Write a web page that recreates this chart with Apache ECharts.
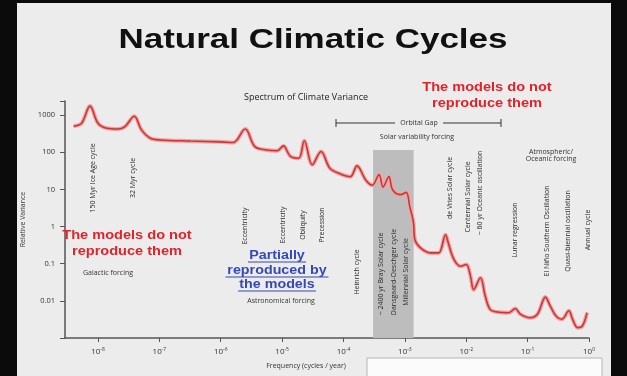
<!DOCTYPE html>
<html>
<head>
<meta charset="utf-8">
<script src="https://cdn.jsdelivr.net/npm/echarts@6/dist/echarts.min.js"></script>
<style>
  body { margin: 0; background: #0b0b0b; }
  #slide { position: absolute; left: 17px; top: 3px; width: 594px; height: 373px; background: #ececec; }
  #chart { position: absolute; left: 0; top: 0; width: 627px; height: 376px; }
</style>
</head>
<body>
<div id="slide"></div>
<div id="chart"></div>
<script>
// spectrum: frequency (cycles / year) and relative variance
var frequency = [4.0e-9, 5.4e-9, 7.4e-9, 1.0e-8, 1.4e-8, 2.1e-8, 2.75e-8, 3.9e-8, 5.1e-8, 7.1e-8,
  1.02e-7, 3.2e-7, 1.0e-6, 1.6e-6, 2.5e-6, 3.6e-6, 5.6e-6, 8.3e-6, 1.05e-5, 1.35e-5,
  1.86e-5, 2.3e-5, 3.1e-5, 4.3e-5, 6.0e-5, 8.9e-5, 1.29e-4, 1.66e-4, 2.3e-4, 2.95e-4,
  3.8e-4, 4.4e-4, 5.5e-4, 6.3e-4, 8.5e-4, 1.05e-3, 1.2e-3, 1.38e-3, 1.45e-3, 1.78e-3,
  2.6e-3, 3.55e-3, 4.6e-3, 5.1e-3, 6.3e-3, 8.1e-3, 1.0e-2, 1.17e-2, 1.32e-2, 1.7e-2,
  2.04e-2, 2.45e-2, 3.2e-2, 4.9e-2, 6.3e-2, 7.6e-2, 0.11, 0.145, 0.195, 0.234,
  0.29, 0.36, 0.47, 0.54, 0.65, 0.78, 0.93];
var variance = [500, 600, 1740, 600, 440, 420, 490, 930, 400, 237,
  214, 200, 190, 182, 420, 141, 115, 110, 148, 79,
  69, 204, 46, 105, 37, 26, 22, 43, 18, 13,
  25, 11.5, 22, 9.8, 7.2, 8.3, 3.5, 1.26, 0.45, 0.27,
  0.195, 0.195, 0.6, 0.36, 0.13, 0.085, 0.095, 0.047, 0.02, 0.042,
  0.0135, 0.0059, 0.005, 0.0048, 0.0062, 0.0044, 0.0035, 0.0044, 0.0126, 0.0072,
  0.0039, 0.0032, 0.0054, 0.0032, 0.0019, 0.0021, 0.0048];

// solar variability band (grey)
var bandFrom = 3.03e-4;
var bandTo = 1.39e-3;
var bandTop = 115;

var xMin = 2.9e-9, xMax = 1;
var yMin = 0.001, yMax = 2390;

var cycleLabels = [
  ['150 Myr Ice Age cycle', 93, 178],
  ['32 Myr cycle', 133, 178],
  ['Eccentricity', 245, 226],
  ['Eccentricity', 283, 225],
  ['Obliquity', 303, 225],
  ['Precession', 322, 225],
  ['Heinrich cycle', 357, 272],
  ['~ 2400 yr Bray Solar cycle', 381, 274],
  ['Dansgaard-Oeschger cycle', 394, 272],
  ['Millennial Solar cycle', 406, 272],
  ['de Vries Solar cycle', 450, 188],
  ['Centennial Solar cycle', 468, 197],
  ['~ 60 yr Oceanic oscillation', 480, 193],
  ['Lunar regression', 515, 230],
  ['El Niño Southern Oscillation', 547, 231],
  ['Quasi-biennial oscillation', 568, 231],
  ['Annual cycle', 588, 230]
];

var points = frequency.map(function (f, i) { return [f, variance[i]]; });

function isPow10(v) {
  var e = Math.log10(v);
  return Math.abs(e - Math.round(e)) < 1e-6;
}

function txt(text, x, y, font, color, opts) {
  var el = {
    type: 'text', x: x, y: y, z: 10,
    style: { text: text, font: font, fill: color, align: 'center', verticalAlign: 'middle' }
  };
  if (opts) for (var k in opts) el[k] = opts[k];
  return el;
}

var graphics = [];
graphics.push(txt('Natural Climatic Cycles', 313, 40, 'bold 28px "Liberation Sans"', '#111', { scaleX: 1.25 }));
graphics.push(txt('Spectrum of Climate Variance', 306, 97, '9px "Open Sans"', '#222'));
graphics.push(txt('The models do not\nreproduce them', 487, 95, 'bold 13px "Liberation Sans"', '#e0232b', { scaleX: 1.12, style: null }));
graphics.push(txt('The models do not\nreproduce them', 127, 243, 'bold 13px "Liberation Sans"', '#e0232b', { scaleX: 1.12 }));
graphics.push(txt('Galactic forcing', 108, 273, '7px "Open Sans"', '#333'));
graphics.push(txt('Astronomical forcing', 281, 301, '7px "Open Sans"', '#333'));
graphics.push(txt('Solar variability forcing', 417, 137, '7px "Open Sans"', '#333'));
graphics.push(txt('Atmospheric/\nOceanic forcing', 551, 155, '7px "Open Sans"', '#333'));
graphics.push(txt('Frequency (cycles / year)', 306, 366, '7px "Open Sans"', '#333'));

// fix the style for the red top text (helper override above)
graphics[2].style = { text: 'The models do not\nreproduce them', font: 'bold 13px "Liberation Sans"', fill: '#e0232b', align: 'center', verticalAlign: 'middle', lineHeight: 16 };
graphics[3].style.lineHeight = 16;

// partially reproduced (blue, underlined)
var blueLines = [['Partially', 277, 255, 58], ['reproduced by', 277, 270, 103], ['the models', 277, 284, 78]];
blueLines.forEach(function (b) {
  graphics.push(txt(b[0], b[1], b[2], 'bold 13px "Liberation Sans"', '#3548b8', { scaleX: 1.1 }));
  graphics.push({ type: 'line', z: 10, shape: { x1: b[1] - b[3] / 2, y1: b[2] + 7, x2: b[1] + b[3] / 2, y2: b[2] + 7 },
    style: { stroke: '#3548b8', lineWidth: 1 } });
});

// orbital gap bracket
graphics.push({ type: 'line', z: 10, shape: { x1: 336, y1: 123, x2: 395, y2: 123 }, style: { stroke: '#333', lineWidth: 1 } });
graphics.push({ type: 'line', z: 10, shape: { x1: 443, y1: 123, x2: 501, y2: 123 }, style: { stroke: '#333', lineWidth: 1 } });
graphics.push({ type: 'line', z: 10, shape: { x1: 336, y1: 119, x2: 336, y2: 127 }, style: { stroke: '#333', lineWidth: 1 } });
graphics.push({ type: 'line', z: 10, shape: { x1: 501, y1: 119, x2: 501, y2: 127 }, style: { stroke: '#333', lineWidth: 1 } });
graphics.push(txt('Orbital Gap', 419, 123, '7px "Open Sans"', '#333'));

cycleLabels.forEach(function (c) {
  graphics.push(txt(c[0], c[1], c[2], '7px "Open Sans"', '#2a2a2a', { rotation: Math.PI / 2 }));
});

// white box at the bottom right
graphics.push({ type: 'rect', z: 10, shape: { x: 367, y: 358, width: 235, height: 30 },
  style: { fill: '#fbfbfb', stroke: '#b5b5b5', lineWidth: 1 } });

var chart = echarts.init(document.getElementById('chart'));
chart.setOption({
  backgroundColor: 'transparent',
  animation: false,
  grid: { left: 65, right: 38, top: 101, bottom: 38 },
  xAxis: {
    type: 'log', min: xMin, max: xMax, logBase: 10,
    axisLine: { lineStyle: { color: '#555', width: 1.5 } },
    axisTick: { length: 4, lineStyle: { color: '#555' } },
    splitLine: { show: false },
    axisLabel: {
      margin: 9, color: '#333', showMinLabel: false,
      formatter: function (v) {
        if (!isPow10(v)) return '';
        return '10{e|' + Math.round(Math.log10(v)) + '}';
      },
      rich: { e: { fontSize: 5, verticalAlign: 'top', padding: [0, 0, 4, 0], color: '#333' } },
      fontSize: 8, fontFamily: 'Open Sans'
    }
  },
  yAxis: {
    type: 'log', min: yMin, max: yMax, logBase: 10,
    name: 'Relative Variance', nameLocation: 'middle', nameGap: 31, nameRotate: 90,
    nameTextStyle: { fontSize: 7, color: '#333', fontFamily: 'Open Sans' },
    axisLine: { show: true, lineStyle: { color: '#555', width: 1.5 } },
    axisTick: { length: 5, lineStyle: { color: '#555' } },
    splitLine: { show: false },
    axisLabel: {
      margin: 10, color: '#333', fontSize: 7.5, fontFamily: 'Open Sans',
      formatter: function (v) {
        if (!isPow10(v) || v < 0.005) return '';
        return String(+v.toPrecision(3));
      }
    }
  },
  series: [
    {
      type: 'line', data: points, smooth: 0.35, symbol: 'none', silent: true,
      lineStyle: { color: '#f3a3a3', width: 4 },
      markArea: {
        silent: true,
        itemStyle: { color: '#bdbdbd' },
        data: [[{ xAxis: bandFrom, yAxis: yMin }, { xAxis: bandTo, yAxis: bandTop }]]
      },
      z: 3
    },
    {
      type: 'line', data: points, smooth: 0.35, symbol: 'none', silent: true,
      lineStyle: { color: '#c93737', width: 1.6 },
      z: 4
    }
  ],
  graphic: graphics
});
</script>
</body>
</html>
